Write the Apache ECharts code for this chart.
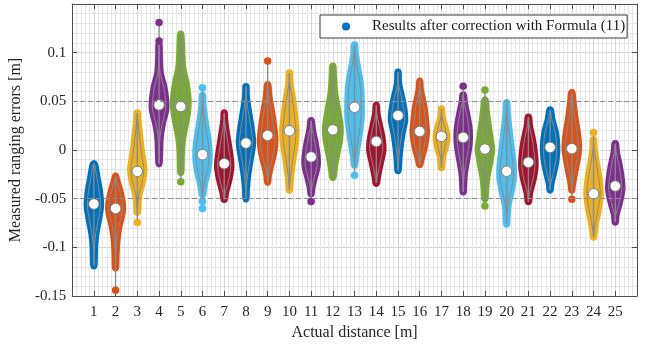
<!DOCTYPE html>
<html>
<head>
<meta charset="utf-8">
<script src="https://cdn.jsdelivr.net/npm/echarts@6/dist/echarts.min.js"></script>
<style>
  html, body { margin: 0; padding: 0; background: #ffffff; }
  #chart { width: 652px; height: 348px; }
</style>
</head>
<body>
<div id="chart"></div>
<script>
// Actual distances (m), one violin per distance
const distances = [1, 2, 3, 4, 5, 6, 7, 8, 9, 10, 11, 12, 13, 14, 15, 16, 17, 18, 19, 20, 21, 22, 23, 24, 25];

// Median ranging error (m) at each distance
const medians = [-0.0555, -0.060, -0.022, 0.0463, 0.0446, -0.0048, -0.014, 0.0071, 0.015, 0.0197,
                 -0.0071, 0.0207, 0.0439, 0.0088, 0.0354, 0.019, 0.014, 0.0129, 0.001, -0.0218,
                 -0.0126, 0.0027, 0.0014, -0.0449, -0.037];

// Density outline of each violin: [error (m), half width (distance units)], bottom to top
const profiles = [
  [[-0.119,0],[-0.098,0.03],[-0.085,0.09],[-0.071,0.21],[-0.0575,0.30],[-0.044,0.26],[-0.030,0.15],[-0.014,0]],
  [[-0.121,0],[-0.105,0.02],[-0.0915,0.06],[-0.078,0.15],[-0.064,0.30],[-0.054,0.30],[-0.044,0.21],[-0.030,0.03],[-0.027,0]],
  [[-0.064,0],[-0.061,0.01],[-0.047,0.06],[-0.034,0.21],[-0.020,0.30],[-0.0065,0.21],[0.0105,0.12],[0.031,0.02],[0.038,0]],
  [[-0.014,0],[0.0003,0.02],[0.014,0.05],[0.0276,0.15],[0.041,0.30],[0.051,0.30],[0.065,0.21],[0.079,0.05],[0.092,0.01],[0.108,0]],
  [[-0.023,0],[-0.003,0.02],[0.0105,0.07],[0.024,0.18],[0.038,0.30],[0.051,0.33],[0.068,0.24],[0.085,0.08],[0.109,0.02],[0.119,0]],
  [[-0.046,0],[-0.044,0.02],[-0.034,0.09],[-0.020,0.24],[-0.0065,0.30],[0.007,0.27],[0.024,0.15],[0.045,0.02],[0.056,0]],
  [[-0.0507,0],[-0.044,0.05],[-0.030,0.21],[-0.0167,0.30],[-0.003,0.24],[0.014,0.12],[0.031,0.01],[0.038,0]],
  [[-0.050,0],[-0.040,0.01],[-0.0235,0.09],[-0.0065,0.21],[0.007,0.30],[0.021,0.24],[0.038,0.12],[0.055,0.01],[0.065,0]],
  [[-0.033,0],[-0.027,0.02],[-0.0167,0.12],[-0.003,0.27],[0.0105,0.33],[0.024,0.27],[0.038,0.18],[0.055,0.05],[0.067,0]],
  [[-0.041,0],[-0.037,0.01],[-0.027,0.05],[-0.0099,0.15],[0.007,0.27],[0.0207,0.30],[0.034,0.24],[0.051,0.15],[0.068,0.02],[0.079,0]],
  [[-0.045,0],[-0.040,0.02],[-0.030,0.12],[-0.0167,0.27],[-0.0065,0.27],[0.007,0.18],[0.021,0.05],[0.030,0]],
  [[-0.028,0],[-0.020,0.05],[-0.0065,0.15],[0.0105,0.30],[0.024,0.33],[0.041,0.21],[0.058,0.08],[0.075,0.02],[0.086,0]],
  [[-0.0156,0],[-0.013,0.01],[0.0003,0.09],[0.0173,0.21],[0.034,0.30],[0.048,0.30],[0.065,0.27],[0.082,0.15],[0.099,0.02],[0.108,0]],
  [[-0.034,0],[-0.027,0.05],[-0.013,0.18],[0.0003,0.30],[0.0105,0.27],[0.024,0.15],[0.038,0.02],[0.046,0]],
  [[-0.021,0],[-0.013,0.02],[0.0037,0.09],[0.0173,0.18],[0.031,0.30],[0.041,0.27],[0.055,0.15],[0.068,0.02],[0.080,0]],
  [[-0.015,0],[-0.0099,0.05],[0.0037,0.21],[0.0173,0.30],[0.028,0.27],[0.045,0.18],[0.062,0.02],[0.0707,0]],
  [[-0.018,0],[-0.015,0.01],[-0.0065,0.05],[0.0037,0.18],[0.014,0.24],[0.024,0.15],[0.034,0.02],[0.042,0]],
  [[-0.043,0],[-0.037,0.01],[-0.0235,0.05],[-0.0065,0.18],[0.007,0.27],[0.0207,0.27],[0.034,0.18],[0.048,0.05],[0.0565,0]],
  [[-0.050,0],[-0.0405,0.02],[-0.027,0.09],[-0.013,0.21],[0.0003,0.30],[0.0105,0.24],[0.024,0.15],[0.041,0.05],[0.0514,0]],
  [[-0.076,0],[-0.071,0.01],[-0.0575,0.05],[-0.044,0.18],[-0.030,0.30],[-0.0167,0.30],[0.0003,0.21],[0.0173,0.12],[0.038,0.02],[0.0486,0]],
  [[-0.053,0],[-0.044,0.05],[-0.030,0.21],[-0.0167,0.30],[-0.003,0.27],[0.0105,0.18],[0.024,0.05],[0.0337,0]],
  [[-0.041,0],[-0.0354,0.02],[-0.0235,0.15],[-0.0099,0.27],[0.0037,0.30],[0.0173,0.24],[0.031,0.08],[0.041,0]],
  [[-0.041,0],[-0.037,0.01],[-0.027,0.09],[-0.013,0.21],[0.0003,0.30],[0.014,0.27],[0.031,0.15],[0.048,0.05],[0.0588,0]],
  [[-0.0895,0],[-0.085,0.02],[-0.0745,0.09],[-0.061,0.21],[-0.047,0.30],[-0.034,0.27],[-0.0167,0.15],[0.0003,0.02],[0.0105,0]],
  [[-0.074,0],[-0.0677,0.02],[-0.054,0.18],[-0.0405,0.30],[-0.030,0.27],[-0.0167,0.18],[-0.003,0.05],[0.0065,0]]
];

// Isolated measurements outside the dense body: [distance, error]
const outliers = [
  [2, -0.144], [3, -0.0745], [4, 0.131], [4, 0.112], [5, -0.0327],
  [6, 0.064], [6, -0.053], [6, -0.060], [9, 0.0915], [11, -0.053],
  [13, -0.026], [18, 0.0656], [19, 0.0616], [19, -0.0575], [23, -0.0507], [24, 0.018]
];

// Reference error levels drawn as dashed lines
const referenceLevels = [0.05, -0.05];

const palette = ['#0072BD', '#D95319', '#EDB120', '#7E2F8E', '#77AC30', '#4DBEEE', '#A2142F'];
const seriesName = 'Results after correction with Formula (11)';
const FONT = 'Liberation Serif';
const GRAY = '#8a8a8a';
const DOT = 7.5; // marker diameter of the individual measurements, px

const colorOf = d => palette[(d - 1) % palette.length];

// vertical extent (including isolated points) of each violin
const extents = distances.map((d, i) => {
  let lo = profiles[i][0][0], hi = profiles[i][profiles[i].length - 1][0];
  outliers.forEach(([od, ov]) => { if (od === d) { lo = Math.min(lo, ov); hi = Math.max(hi, ov); } });
  return [lo, hi];
});

function renderViolin(params, api) {
  const i = params.dataIndex;
  const x = distances[i];
  const k = profiles[i];
  const right = k.map(([v, w]) => api.coord([x + w, v]));
  const left = k.slice(1, -1).reverse().map(([v, w]) => api.coord([x - w, v]));
  const pts = right.concat(left);
  const top = api.coord([x, extents[i][1]]);
  const bottom = api.coord([x, extents[i][0]]);
  const color = colorOf(x);
  return {
    type: 'group',
    children: [
      {
        type: 'polygon',
        shape: { points: pts, smooth: 0.35 },
        style: { fill: color, stroke: color, lineWidth: DOT, lineJoin: 'round' }
      },
      {
        type: 'line',
        shape: { x1: bottom[0], y1: bottom[1], x2: top[0], y2: top[1] },
        style: { stroke: GRAY, lineWidth: 1.3 }
      },
      {
        type: 'polygon',
        shape: { points: pts, smooth: 0.35 },
        style: { fill: 'none', stroke: GRAY, lineWidth: 1 }
      }
    ]
  };
}

const axisLineStyle = { color: '#4d4d4d', width: 1 };
const tickStyle = { show: true, inside: true, length: 5, lineStyle: { color: '#4d4d4d' } };

const xBase = { type: 'value', min: 0, max: 26, interval: 1 };
const yBase = { type: 'value', min: -0.15, max: 0.15, interval: 0.05 };

const option = {
  animation: false,
  backgroundColor: '#ffffff',
  grid: { left: 69, right: 15, top: 4, bottom: 52 },
  legend: {
    data: [seriesName],
    left: 320, top: 15,
    icon: 'circle',
    itemWidth: 8, itemHeight: 8,
    padding: [4, 2, 4, 22],
    backgroundColor: '#ffffff',
    borderColor: '#3a3a3a', borderWidth: 1, borderRadius: 0,
    textStyle: { fontFamily: FONT, fontSize: 15, color: '#1a1a1a', padding: [0, 0, 0, 17] }
  },
  xAxis: [
    Object.assign({}, xBase, {
      position: 'bottom',
      name: 'Actual distance [m]', nameLocation: 'middle', nameGap: 28,
      nameTextStyle: { fontFamily: FONT, fontSize: 16, color: '#262626' },
      axisLine: { show: true, onZero: false, lineStyle: axisLineStyle },
      axisTick: tickStyle,
      axisLabel: {
        margin: 9, fontFamily: FONT, fontSize: 15, color: '#262626',
        formatter: v => (v >= 1 && v <= 25 ? String(v) : '')
      },
      splitLine: { show: true, lineStyle: { color: '#d6d6d6', width: 1 } },
      minorTick: { show: false, splitNumber: 5 },
      minorSplitLine: { show: true, lineStyle: { color: '#e6e6e6', width: 1 } }
    }),
    Object.assign({}, xBase, {
      position: 'top',
      axisLine: { show: true, onZero: false, lineStyle: axisLineStyle },
      axisTick: tickStyle,
      axisLabel: { show: false },
      splitLine: { show: false }
    })
  ],
  yAxis: [
    Object.assign({}, yBase, {
      position: 'left',
      name: 'Measured ranging errors [m]', nameLocation: 'middle', nameGap: 33,
      nameTextStyle: { fontFamily: FONT, fontSize: 16, color: '#262626' },
      axisLine: { show: true, onZero: false, lineStyle: axisLineStyle },
      axisTick: tickStyle,
      axisLabel: {
        margin: 6, fontFamily: FONT, fontSize: 15, color: '#262626',
        showMaxLabel: false,
        formatter: v => (v > 0.12 ? '' : String(Number(v.toFixed(3))))
      },
      splitLine: { show: true, lineStyle: { color: '#d6d6d6', width: 1 } },
      minorTick: { show: false, splitNumber: 5 },
      minorSplitLine: { show: true, lineStyle: { color: '#e6e6e6', width: 1 } }
    }),
    Object.assign({}, yBase, {
      position: 'right',
      axisLine: { show: true, onZero: false, lineStyle: axisLineStyle },
      axisTick: tickStyle,
      axisLabel: { show: false },
      splitLine: { show: false }
    })
  ],
  series: [
    {
      name: 'reference levels',
      type: 'line',
      xAxisIndex: 0, yAxisIndex: 0,
      data: [],
      z: 1,
      markLine: {
        silent: true,
        symbol: 'none',
        label: { show: false },
        lineStyle: { color: '#8c8c8c', type: [5, 3], width: 1 },
        data: referenceLevels.map(v => ({ yAxis: v }))
      }
    },
    {
      name: 'violins',
      type: 'custom',
      xAxisIndex: 0, yAxisIndex: 0,
      z: 2,
      clip: true,
      renderItem: renderViolin,
      encode: { x: 0, y: 1 },
      data: distances.map((d, i) => [d, medians[i]])
    },
    {
      name: seriesName,
      type: 'scatter',
      xAxisIndex: 0, yAxisIndex: 0,
      z: 3,
      symbol: 'circle',
      symbolSize: DOT,
      itemStyle: { color: palette[0], opacity: 1 },
      data: outliers.map(([d, v]) => ({ value: [d, v], itemStyle: { color: colorOf(d) } }))
    },
    {
      name: 'medians',
      type: 'scatter',
      xAxisIndex: 0, yAxisIndex: 0,
      z: 4,
      symbol: 'circle',
      symbolSize: 10.5,
      itemStyle: { color: '#ffffff', borderColor: '#7f7f7f', borderWidth: 1, opacity: 1 },
      data: distances.map((d, i) => [d, medians[i]])
    }
  ]
};

const chart = echarts.init(document.getElementById('chart'), null, { renderer: 'canvas' });
chart.setOption(option);
</script>
</body>
</html>
